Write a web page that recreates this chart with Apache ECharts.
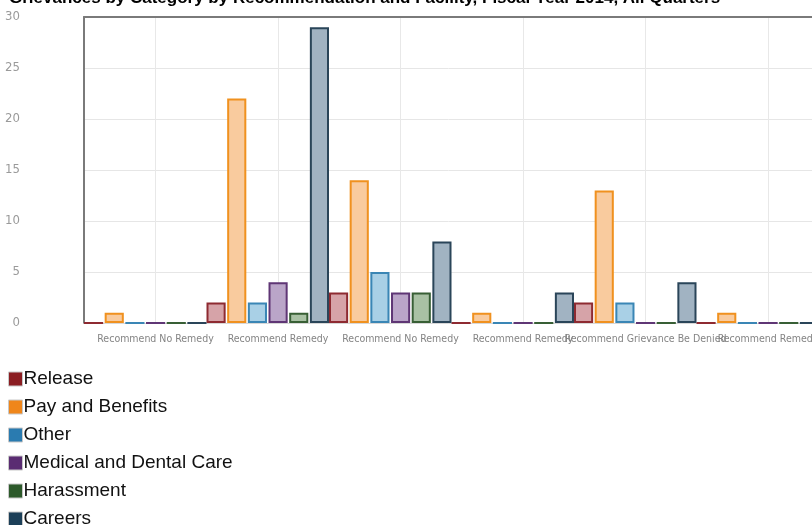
<!DOCTYPE html>
<html>
<head>
<meta charset="utf-8">
<script src="https://cdn.jsdelivr.net/npm/echarts@6/dist/echarts.min.js"></script>
<style>
  html, body { margin: 0; padding: 0; background: #fff; }
  #chart { width: 812px; height: 525px; }
</style>
</head>
<body>
<div id="chart"></div>
<script>
// Grievance counts by recommendation and category
const recommendations = [
  'Recommend No Remedy',
  'Recommend Remedy',
  'Recommend No Remedy',
  'Recommend Remedy',
  'Recommend Grievance Be Denied',
  'Recommend Remedy'
];
const release     = [0, 2, 3, 0, 2, 0];
const payBenefits = [1, 22, 14, 1, 13, 1];
const other       = [0, 2, 5, 0, 2, 0];
const medical     = [0, 4, 3, 0, 0, 0];
const harassment  = [0, 1, 3, 0, 0, 0];
const careers     = [0, 29, 8, 3, 4, 0];
const yTicks = [0, 5, 10, 15, 20, 25, 30];

const seriesDefs = [
  { name: 'Release',                 data: release,     fill: '#d6a3a8', line: '#8e2a31', key: '#8b1d22' },
  { name: 'Pay and Benefits',        data: payBenefits, fill: '#f9cb9e', line: '#f0911f', key: '#ef861b' },
  { name: 'Other',                   data: other,       fill: '#a9d0e6', line: '#3a86b5', key: '#2a7bb0' },
  { name: 'Medical and Dental Care', data: medical,     fill: '#baa5c8', line: '#5f3675', key: '#5a2c72' },
  { name: 'Harassment',              data: harassment,  fill: '#a9c1a4', line: '#385f35', key: '#2d5a2b' },
  { name: 'Careers',                 data: careers,     fill: '#a1b3c2', line: '#2a4559', key: '#1c3f58' }
];

const narrow = '"Liberation Sans Narrow", "Arial Narrow", "DejaVu Sans Condensed", sans-serif';
const plotTop = 17, plotHeight = 306, plotLeft = 84, band = 122.5;
const plotWidth = band * recommendations.length;   // the plot runs past the right edge
const labelLeft = plotLeft + 71.5;                   // category labels sit on the gridlines

const chart = echarts.init(document.getElementById('chart'), null, { renderer: 'canvas' });

chart.setOption({
  animation: false,
  backgroundColor: '#ffffff',
  title: {
    text: 'Grievances by Category by Recommendation and Facility, Fiscal Year 2014, All Quarters',
    left: 4,
    top: -15,
    textStyle: { fontFamily: 'Liberation Sans, Arial, sans-serif', fontWeight: 'bold', fontSize: 17, color: '#000' }
  },
  legend: {
    orient: 'vertical',
    left: 8,
    top: 369,
    height: 200,
    padding: 0,
    itemWidth: 14,
    itemHeight: 14,
    itemGap: 8,
    icon: 'rect',
    selectedMode: false,
    itemStyle: { borderColor: '#c8c8c8', borderWidth: 1 },
    textStyle: {
      fontFamily: 'Liberation Sans, Arial, sans-serif',
      fontSize: 19,
      lineHeight: 20,
      color: '#111',
      padding: [0, 0, 0, -4]
    },
    data: seriesDefs.map(s => ({ name: s.name, itemStyle: { color: s.key } }))
  },
  grid: [
    { left: plotLeft, top: plotTop, height: plotHeight, width: plotWidth, outerBoundsMode: 'none', containLabel: false },
    { left: labelLeft, top: plotTop, height: plotHeight, width: plotWidth, outerBoundsMode: 'none', containLabel: false }
  ],
  xAxis: [
    {
      gridIndex: 0,
      type: 'category',
      data: recommendations,
      axisLine: { show: true, lineStyle: { color: '#d8d8d8', width: 1 } },
      axisTick: { show: false },
      axisLabel: { show: false },
      splitLine: { show: false }
    },
    {
      gridIndex: 0,
      type: 'category',
      position: 'top',
      data: recommendations,
      axisLine: { show: true, lineStyle: { color: '#7a7a7a', width: 2 } },
      axisTick: { show: false },
      axisLabel: { show: false },
      splitLine: { show: false }
    },
    {
      gridIndex: 1,
      type: 'category',
      boundaryGap: false,
      data: recommendations.concat(['']),
      axisLine: { show: false },
      axisTick: { show: false },
      axisLabel: {
        interval: 0,
        hideOverlap: false,
        margin: 11,
        fontFamily: narrow,
        fontSize: 10.5,
        color: '#848484'
      },
      splitLine: { show: true, lineStyle: { color: '#e8e8e8', width: 1 } }
    }
  ],
  yAxis: [
    {
      gridIndex: 0,
      type: 'value',
      min: yTicks[0],
      max: yTicks[yTicks.length - 1],
      interval: 5,
      axisLine: { show: true, lineStyle: { color: '#7a7a7a', width: 2 } },
      axisTick: { show: false },
      axisLabel: { margin: 64, fontFamily: narrow, fontSize: 13, color: '#9a9a9a' },
      splitLine: { show: true, lineStyle: { color: '#e6e6e6', width: 1 } }
    },
    {
      gridIndex: 1,
      type: 'value',
      min: yTicks[0],
      max: yTicks[yTicks.length - 1],
      show: false
    }
  ],
  series: seriesDefs.map(s => ({
    name: s.name,
    type: 'bar',
    xAxisIndex: 0,
    yAxisIndex: 0,
    data: s.data,
    barGap: '8%',
    barCategoryGap: '0%',
    itemStyle: { color: s.fill, borderColor: s.line, borderWidth: 2 },
    emphasis: { disabled: true }
  }))
});
</script>
</body>
</html>
